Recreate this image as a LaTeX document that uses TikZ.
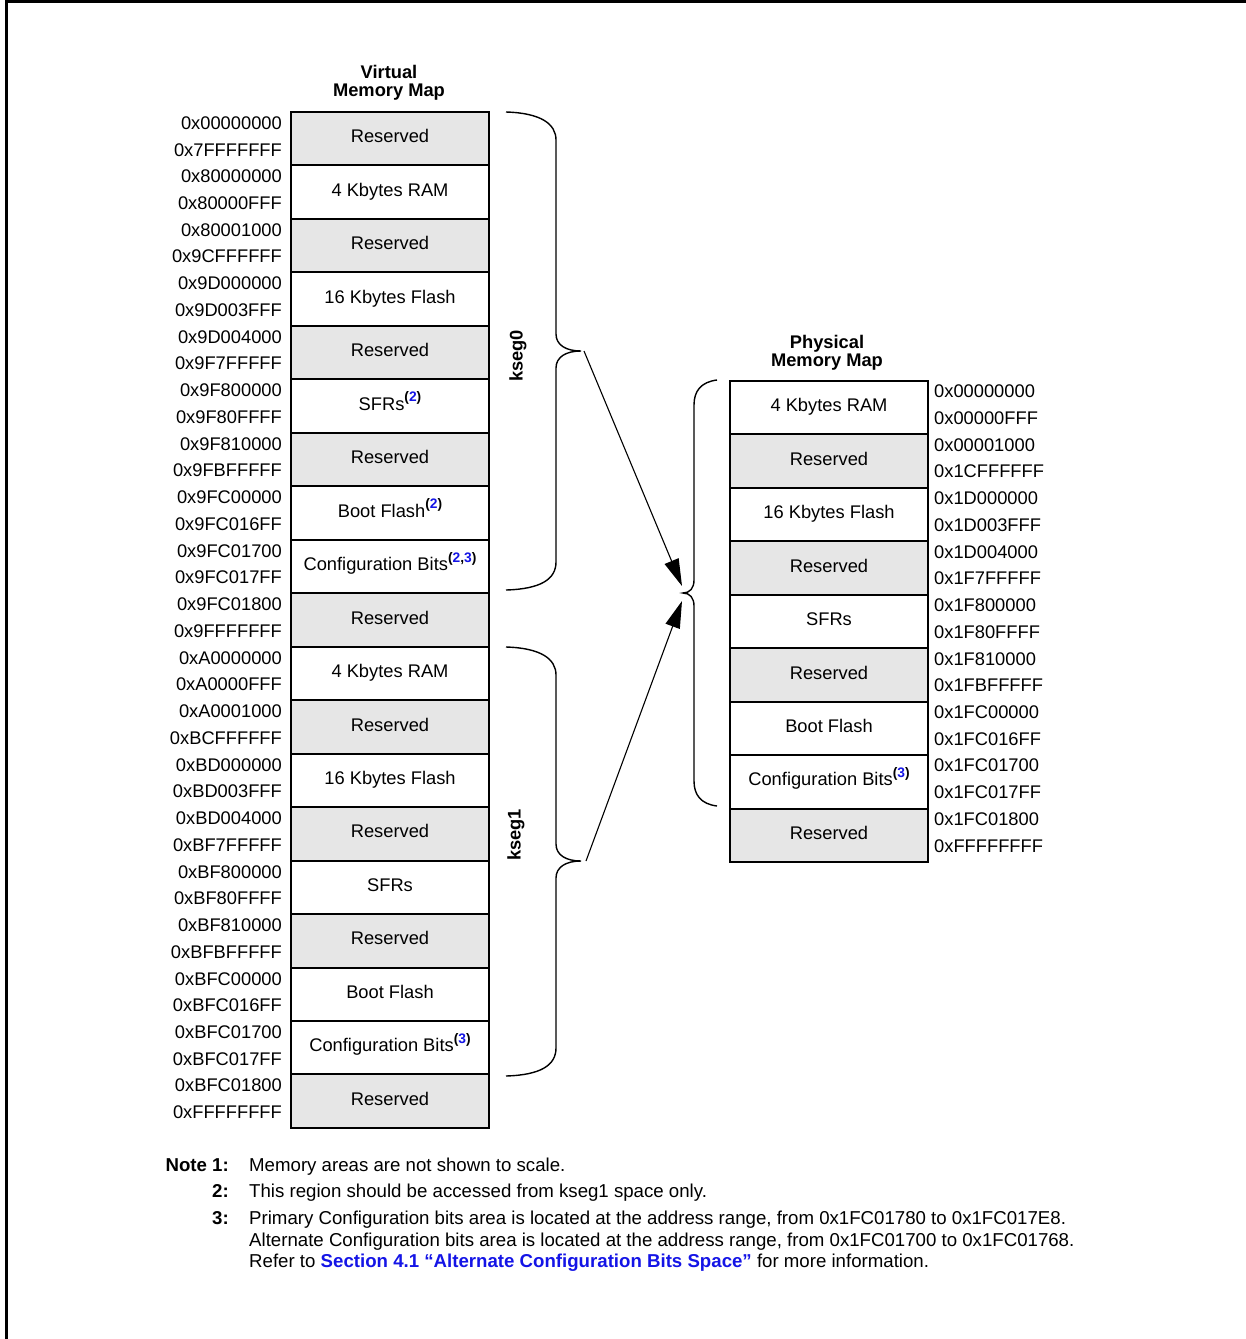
\documentclass[tikz,border=0pt]{standalone}
\usepackage{fontspec}
\setmainfont{Liberation Sans}
\usetikzlibrary{arrows.meta}
\definecolor{resgray}{RGB}{230,230,230}
\definecolor{linkblue}{RGB}{20,20,230}
\newcommand\fsz{\fontsize{18.3}{22}\selectfont}
\newcommand\nsz{\fontsize{18.65}{22}\selectfont}
\newcommand\noteref[1]{\raisebox{0.45em}{\fontsize{13.8}{14}\selectfont\bfseries(\textcolor{linkblue}{#1})}}
\newcommand\notereftwo{\raisebox{0.45em}{\fontsize{13.8}{14}\selectfont\bfseries(\textcolor{linkblue}{2},\textcolor{linkblue}{3})}}
\begin{document}
\begin{tikzpicture}[x=1pt,y=-1pt,
  every node/.style={font=\fsz, inner sep=0pt},
  cell/.style={draw, line width=2pt, minimum width=198pt, minimum height=53.47pt,
     anchor=north west, text height=13.2pt, text depth=5pt},
  resv/.style={fill=resgray},
  plain/.style={fill=white},
  addr/.style={anchor=base east},
  paddr/.style={anchor=base west},
  hdr/.style={anchor=base, font=\fsz\bfseries},
  brace/.style={line width=1.4pt},
  conn/.style={line width=1.1pt, -{Triangle[length=27pt,width=15pt]}},
  notelbl/.style={anchor=base east, font=\nsz\bfseries},
  notetxt/.style={anchor=base west, font=\nsz}
]
\useasboundingbox (0,0) rectangle (1246,1339);
% frame
\draw[line width=3pt] (6.5,1339) -- (6.5,1.5) -- (1246,1.5);

% headers
\node[hdr] (vh1) at (389,78.6) {Virtual};
\node[hdr] (vh2) at (389,96.6) {Memory Map};
\node[hdr] (ph1) at (827,348.6) {Physical};
\node[hdr] (ph2) at (827,366.6) {Memory Map};

% virtual memory map
\foreach \i/\txt/\a/\b/\g in {
 0/Reserved/0x00000000/0x7FFFFFFF/resv,
 1/4 Kbytes RAM/0x80000000/0x80000FFF/plain,
 2/Reserved/0x80001000/0x9CFFFFFF/resv,
 3/16 Kbytes Flash/0x9D000000/0x9D003FFF/plain,
 4/Reserved/0x9D004000/0x9F7FFFFF/resv,
 5/{SFRs\noteref{2}}/0x9F800000/0x9F80FFFF/plain,
 6/Reserved/0x9F810000/0x9FBFFFFF/resv,
 7/{Boot Flash\noteref{2}}/0x9FC00000/0x9FC016FF/plain,
 8/{Configuration Bits\notereftwo}/0x9FC01700/0x9FC017FF/plain,
 9/Reserved/0x9FC01800/0x9FFFFFFF/resv,
 10/4 Kbytes RAM/0xA0000000/0xA0000FFF/plain,
 11/Reserved/0xA0001000/0xBCFFFFFF/resv,
 12/16 Kbytes Flash/0xBD000000/0xBD003FFF/plain,
 13/Reserved/0xBD004000/0xBF7FFFFF/resv,
 14/SFRs/0xBF800000/0xBF80FFFF/plain,
 15/Reserved/0xBF810000/0xBFBFFFFF/resv,
 16/Boot Flash/0xBFC00000/0xBFC016FF/plain,
 17/{Configuration Bits\noteref{3}}/0xBFC01700/0xBFC017FF/plain,
 18/Reserved/0xBFC01800/0xFFFFFFFF/resv}{
  \pgfmathsetmacro\t{111+53.47*\i}
  \node[cell,\g] (v\i) at (290,\t) {\txt};
  \node[addr] (va\i) at (282,\t+18.5) {\a};
  \node[addr] (vb\i) at (282,\t+45) {\b};
}

% physical memory map
\foreach \i/\txt/\a/\b/\g in {
 0/4 Kbytes RAM/0x00000000/0x00000FFF/plain,
 1/Reserved/0x00001000/0x1CFFFFFF/resv,
 2/16 Kbytes Flash/0x1D000000/0x1D003FFF/plain,
 3/Reserved/0x1D004000/0x1F7FFFFF/resv,
 4/SFRs/0x1F800000/0x1F80FFFF/plain,
 5/Reserved/0x1F810000/0x1FBFFFFF/resv,
 6/Boot Flash/0x1FC00000/0x1FC016FF/plain,
 7/{Configuration Bits\noteref{3}}/0x1FC01700/0x1FC017FF/plain,
 8/Reserved/0x1FC01800/0xFFFFFFFF/resv}{
  \pgfmathsetmacro\t{380+53.44*\i}
  \node[cell,\g] (p\i) at (729,\t) {\txt};
  \node[paddr] (pa\i) at (934,\t+17.8) {\a};
  \node[paddr] (pb\i) at (934,\t+44.5) {\b};
}

% braces
\draw[brace] (506,112) .. controls (541,113) and (556,124) .. (556,140)
  -- (556,334) .. controls (556,345) and (566,351) .. (581,351)
  .. controls (566,351) and (556,357) .. (556,368)
  -- (556,562) .. controls (556,579) and (541,589) .. (506,590);
\draw[brace] (506,647) .. controls (541,648) and (556,659) .. (556,675)
  -- (556,844) .. controls (556,855) and (566,861) .. (581,861)
  .. controls (566,861) and (556,867) .. (556,878)
  -- (556,1048) .. controls (556,1065) and (541,1075) .. (506,1076);
\draw[brace] (717,380) .. controls (701,382) and (694,391) .. (694,405)
  -- (694,580) .. controls (694,588) and (690,593) .. (683,593)
  .. controls (690,593) and (694,598) .. (694,606)
  -- (694,781) .. controls (694,795) and (701,804) .. (717,806);

\node[rotate=90, font=\fsz\bfseries] (k0) at (518,356) {kseg0};
\node[rotate=90, font=\fsz\bfseries] (k1) at (516,835) {kseg1};

% connectors
\coordinate (k0tip) at (584,351);
\coordinate (k1tip) at (586,861);
\coordinate (pin0) at (682,586);
\coordinate (pin1) at (682,601);
\draw[conn] (k0tip) -- (pin0);
\draw[conn] (k1tip) -- (pin1);

% notes
\node[notelbl] (l1) at (229,1171.6) {Note 1:};
\node[notetxt] (n1) at (249,1171.6) {Memory areas are not shown to scale.};
\node[notelbl] (l2) at (229,1197.6) {2:};
\node[notetxt] (n2) at (249,1197.6) {This region should be accessed from kseg1 space only.};
\node[notelbl] (l3) at (229,1224.6) {3:};
\node[notetxt] (n3a) at (249,1224.6) {Primary Configuration bits area is located at the address range, from 0x1FC01780 to 0x1FC017E8.};
\node[notetxt] (n3b) at (249,1246.2) {Alternate Configuration bits area is located at the address range, from 0x1FC01700 to 0x1FC01768.};
\node[notetxt] (n3c) at (249,1267.8) {Refer to \textcolor{linkblue}{\bfseries Section 4.1 “Alternate Configuration Bits Space”} for more information.};
\end{tikzpicture}
\end{document}
